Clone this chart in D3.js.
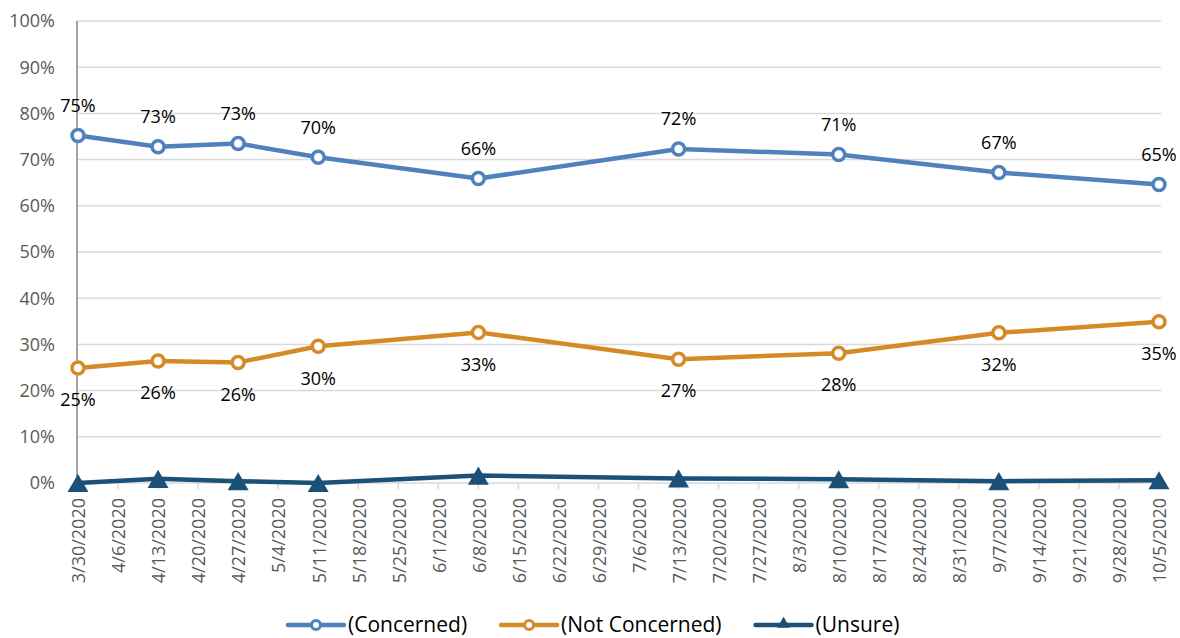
<!DOCTYPE html>
<html><head><meta charset="utf-8">
<script src="https://cdn.jsdelivr.net/npm/d3@7"></script>
<style>body{margin:0;background:#fff;font-family:"Open Sans",sans-serif}</style>
</head><body><svg id="c" width="1180" height="638"></svg>
<script>
const weeks = ["3/30/2020","4/6/2020","4/13/2020","4/20/2020","4/27/2020","5/4/2020","5/11/2020","5/18/2020","5/25/2020","6/1/2020","6/8/2020","6/15/2020","6/22/2020","6/29/2020","7/6/2020","7/13/2020","7/20/2020","7/27/2020","8/3/2020","8/10/2020","8/17/2020","8/24/2020","8/31/2020","9/7/2020","9/14/2020","9/21/2020","9/28/2020","10/5/2020"];
const surveyDates = ["3/30/2020","4/13/2020","4/27/2020","5/11/2020","6/8/2020","7/13/2020","8/10/2020","9/7/2020","10/5/2020"];
const concerned = [75.2, 72.8, 73.5, 70.5, 65.9, 72.3, 71.1, 67.2, 64.6];
const notConcerned = [24.9, 26.4, 26.1, 29.6, 32.6, 26.8, 28.1, 32.5, 34.9];
const unsure = [0.0, 0.9, 0.4, 0.0, 1.6, 1.0, 0.8, 0.4, 0.6];
const concernedLabels = ["75%","73%","73%","70%","66%","72%","71%","67%","65%"];
const notConcernedLabels = ["25%","26%","26%","30%","33%","27%","28%","32%","35%"];
const yTicks = [0,10,20,30,40,50,60,70,80,90,100];

const svg = d3.select("#c");
const L = 77, R = 1161, T = 21, B = 483;
const parse = d3.timeParse("%m/%d/%Y");
const x = d3.scaleTime().domain([parse(weeks[0]), parse(weeks[weeks.length-1])]).range([L+1, R-2]);
const y = d3.scaleLinear().domain([0,100]).range([B, T]);

// gridlines
svg.append("g").selectAll("line").data(yTicks.filter(d=>d>0)).join("line")
  .attr("x1", L).attr("x2", R).attr("y1", d=>y(d)).attr("y2", d=>y(d))
  .attr("stroke", "#d9d9d9").attr("stroke-width", 1.5);
// y labels
svg.append("g").selectAll("text").data(yTicks).join("text")
  .attr("x", 55).attr("y", d=>y(d)).attr("dy","0.35em").attr("text-anchor","end")
  .attr("font-size", 18).attr("fill", "#595959").text(d=>d+"%");
// x axis line
svg.append("line").attr("x1", L).attr("x2", R).attr("y1", B).attr("y2", B).attr("stroke","#d9d9d9").attr("stroke-width",1.5);
svg.append("g").selectAll("line").data(weeks).join("line")
  .attr("x1", d=>x(parse(d))).attr("x2", d=>x(parse(d))).attr("y1", B).attr("y2", B+6)
  .attr("stroke","#d9d9d9").attr("stroke-width",1.5);
// y axis line
svg.append("line").attr("x1", L).attr("x2", L).attr("y1", T).attr("y2", B).attr("stroke","#868686").attr("stroke-width",1.5);
// x labels
svg.append("g").selectAll("text").data(weeks).join("text")
  .attr("transform", d=>`translate(${x(parse(d))+1},${B+15}) rotate(-90)`)
  .attr("text-anchor","end").attr("dy","0.35em")
  .attr("font-size", 18).attr("fill","#595959").text(d=>d);

const series = [
  {name:"(Concerned)", vals:concerned, color:"#4f81bd", marker:"circle", labels:concernedLabels, off:-30},
  {name:"(Not Concerned)", vals:notConcerned, color:"#d58a28", marker:"circle", labels:notConcernedLabels, off:32},
  {name:"(Unsure)", vals:unsure, color:"#1b5078", marker:"triangle", labels:null}
];
const line = d3.line().x(d=>x(parse(d[0]))).y(d=>y(d[1]));
const triSize = 190;
const tri = d3.symbol().type(d3.symbolTriangle).size(triSize);
const triShift = Math.sqrt(triSize/(3*Math.sqrt(3)))/2;

series.forEach(s=>{
  const pts = surveyDates.map((d,i)=>[d,s.vals[i]]);
  svg.append("path").datum(pts).attr("d", line).attr("fill","none")
    .attr("stroke", s.color).attr("stroke-width", 4.5).attr("stroke-linejoin","round");
  if (s.marker==="circle") {
    svg.append("g").selectAll("circle").data(pts).join("circle")
      .attr("cx", d=>x(parse(d[0]))).attr("cy", d=>y(d[1])).attr("r", 6)
      .attr("fill","#fff").attr("stroke", s.color).attr("stroke-width", 3.5);
  } else {
    svg.append("g").selectAll("path").data(pts).join("path")
      .attr("d", tri).attr("transform", d=>`translate(${x(parse(d[0]))},${y(d[1])+triShift})`)
      .attr("fill", s.color);
  }
  if (s.labels) {
    svg.append("g").selectAll("text").data(pts).join("text")
      .attr("x", d=>x(parse(d[0]))).attr("y", d=>y(d[1])+s.off).attr("dy","0.35em")
      .attr("text-anchor","middle").attr("font-size",18).attr("fill","#000")
      .text((d,i)=>s.labels[i]);
  }
});

// legend
let lx = 288;
series.forEach((s,i)=>{
  const g = svg.append("g").attr("transform", `translate(${lx},625)`);
  g.append("line").attr("x1",0).attr("x2",56).attr("stroke",s.color).attr("stroke-width",4.5).attr("stroke-linecap","round");
  if (s.marker==="circle") g.append("circle").attr("cx",28).attr("r",4.5).attr("fill","#fff").attr("stroke",s.color).attr("stroke-width",3);
  else g.append("path").attr("d", d3.symbol().type(d3.symbolTriangle).size(70)).attr("transform","translate(28,-1)").attr("fill",s.color);
  const t = g.append("text").attr("x",60).attr("dy","0.35em").attr("font-size",21).attr("fill","#000").text(s.name);
  lx += 60 + t.node().getComputedTextLength() + 34;
});
</script></body></html>
